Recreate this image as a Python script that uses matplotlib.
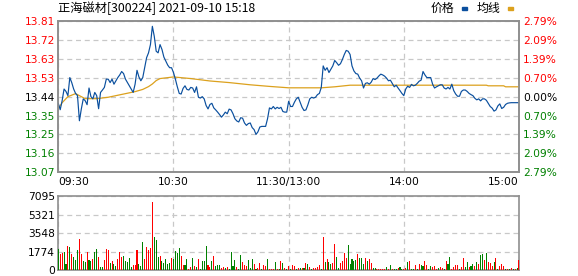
import numpy as np
import matplotlib
matplotlib.use("Agg")
import matplotlib.pyplot as plt
from matplotlib.patches import Rectangle

# stock info
title = "正海磁材[300224] 2021-09-10 15:18"
pre_close = 13.44

# price per minute, 09:30 .. 11:30 then 13:01 .. 15:00
price = [
    13.407, 13.375, 13.420, 13.478, 13.466, 13.445, 13.535, 13.510, 13.478, 13.456,
    13.445, 13.320, 13.379, 13.429, 13.420, 13.400, 13.483, 13.440, 13.429, 13.461,
    13.445, 13.380, 13.461, 13.473, 13.486, 13.527, 13.527, 13.510, 13.527, 13.502,
    13.519, 13.535, 13.548, 13.565, 13.555, 13.527, 13.510, 13.494, 13.478, 13.461,
    13.502, 13.571, 13.538, 13.519, 13.535, 13.584, 13.634, 13.658, 13.699, 13.790,
    13.740, 13.666, 13.658, 13.699, 13.675, 13.637, 13.617, 13.597, 13.584, 13.584,
    13.560,
    13.527, 13.489, 13.456, 13.453, 13.481, 13.494, 13.476, 13.473, 13.486, 13.483,
    13.461, 13.489, 13.437, 13.433, 13.440, 13.429, 13.396, 13.379, 13.401, 13.407,
    13.384, 13.374, 13.363, 13.351, 13.338, 13.349, 13.363, 13.355, 13.378, 13.374,
    13.355, 13.330, 13.319, 13.314, 13.335, 13.333, 13.309, 13.297, 13.306, 13.309,
    13.286, 13.276, 13.252, 13.265, 13.289, 13.292, 13.292, 13.292, 13.330, 13.384,
    13.379, 13.391, 13.379, 13.387, 13.381, 13.387, 13.366, 13.363, 13.363, 13.417,
    13.391, 13.391, 13.412, 13.429, 13.437, 13.412, 13.387, 13.371, 13.374, 13.399,
    13.429, 13.437, 13.433, 13.437, 13.450, 13.456, 13.486, 13.593, 13.571, 13.584,
    13.560, 13.576, 13.593, 13.620, 13.609, 13.596, 13.604, 13.625, 13.650, 13.670,
    13.666, 13.650, 13.593, 13.568, 13.555, 13.552, 13.532, 13.519, 13.483, 13.506,
    13.509, 13.502, 13.512, 13.530, 13.525, 13.532, 13.543, 13.552, 13.548, 13.542,
    13.532, 13.519, 13.522, 13.506, 13.489, 13.497, 13.483, 13.470, 13.456, 13.445,
    13.478, 13.492, 13.486, 13.501, 13.494, 13.497, 13.506, 13.517, 13.522, 13.565,
    13.548, 13.535, 13.535, 13.535, 13.502, 13.483, 13.489, 13.494, 13.499, 13.499,
    13.483, 13.478, 13.486, 13.478, 13.502, 13.470, 13.453, 13.442, 13.442, 13.466,
    13.473, 13.473, 13.466, 13.456, 13.450, 13.445, 13.432, 13.424, 13.429, 13.419,
    13.429, 13.429, 13.422, 13.407, 13.391, 13.383, 13.368, 13.374, 13.394, 13.404,
    13.381, 13.387, 13.401, 13.407, 13.409, 13.410, 13.410, 13.410, 13.410, 13.410,
]

# average price line, read at its turning points
avg_minutes = [0, 2, 5, 9, 12, 14, 20, 26, 30, 35, 40, 44, 47, 49, 51, 53, 60,
               69, 79, 89, 100, 110, 120, 137, 144, 149, 152, 223, 224, 232, 233, 240]
avg_price = [13.38, 13.41, 13.44, 13.455, 13.44, 13.43, 13.43, 13.437, 13.445, 13.455,
             13.465, 13.476, 13.49, 13.503, 13.52, 13.53, 13.538,
             13.53, 13.518, 13.51, 13.499, 13.491, 13.484, 13.484, 13.489, 13.494,
             13.497, 13.497, 13.494, 13.494, 13.489, 13.489]

# volume per minute (hands), R = up minute, G = down minute
volume = [
    2022, 1540, 1637, 1733, 578, 2311, 2215, 1540, 1252, 963,
    1926, 2985, 1540, 867, 770, 1733, 963, 867, 1059, 1733,
    2022, 1252, 289, 289, 963, 2022, 1926, 674, 867, 578,
    385, 1059, 1733, 1252, 1348, 867, 770, 1156, 289, 482,
    482, 1926, 578, 385, 2696, 1059, 2215, 1926, 2119, 6548,
    3178, 2889, 1252, 1348, 867, 674, 1059, 578, 674, 1156,
    1059,
    1830, 1637, 2119, 1348, 482, 482, 1059, 96, 289, 1156,
    385, 289, 1059, 96, 867, 867, 2311, 482, 289, 867,
    1348, 385, 482, 482, 193, 289, 193, 289, 96, 1733,
    385, 963, 289, 96, 1444, 770, 482, 385, 963, 193,
    1059, 578, 96, 193, 674, 96, 482, 385, 1059, 96,
    96, 96, 770, 96, 96, 867, 674, 193, 96,
    385, 96, 482, 385, 96, 193, 193, 193, 193, 674,
    578, 289, 96, 193, 193, 289, 482, 96, 3178, 770,
    1059, 770, 578, 674, 2504, 1252, 193, 674, 867, 1637,
    1156, 2408, 578, 1059, 867, 963, 1540, 1156, 1156, 578,
    1156, 867, 1059, 674, 193, 193, 96, 96, 96, 96,
    96, 289, 96, 482, 96, 96, 96, 193, 289, 96,
    96,
    193, 770, 867, 96, 96, 482, 96, 578, 482, 385,
    867, 482, 96, 385, 289, 385, 96, 193, 289, 193,
    96, 867, 578, 1252, 96, 289, 482, 482, 96, 289,
    1156, 289, 770, 289, 385, 578, 385, 770, 578, 1444,
    1540, 963, 1637, 770, 674, 385, 770, 1156, 96, 385,
    578, 385, 96, 96, 96, 193, 96, 96, 193, 963,
]
direction = (
    "GRRGGRGRGG" "GRRGGRGGRG" "GRGGRRRGRG" "GRRRGGGGGR" "RRGGGRRRRR" "GGGRGGGGGR" "G"
    "GGGRRGGRRG" "RGRGGGGRRG" "RGGGRRGRGG" "GGRGGRRRGG" "GRGRRGRRGR" "RRGRGRGRG"
    "RGRRGRGRGR" "GRGRRRRGRG" "RGGRRGGRRR" "RGGGGGRGGG" "RGRRGGRRRR" "RGRGRGGRGG" "R"
    "RGRGGRGRGG" "RRGGRRRGRR" "GRGGRRRRGR" "RGGRGGRGRG" "GRGRRRGRGR" "RRGRGRGRGR"
)

minute_ticks = [0, 60, 120, 180, 240]
time_labels = ["09:30", "10:30", "11:30/13:00", "14:00", "15:00"]
pct = [2.79, 2.09, 1.39, 0.70, 0.00, -0.70, -1.39, -2.09, -2.79]
price_labels = ["13.81", "13.72", "13.63", "13.53", "13.44", "13.35", "13.25", "13.16", "13.07"]
pct_labels = ["2.79%", "2.09%", "1.39%", "0.70%", "0.00%", "0.70%", "1.39%", "2.09%", "2.79%"]
vol_ticks = [0, 1774, 3548, 5321, 7095]

RED = "#ff0000"
GREEN = "#008000"
BLUE = "#0a4f9e"
ORANGE = "#dca11d"
SPINE = "#8f8f8f"
GRID = "#c8c8c8"

plt.rcParams['font.family'] = ['DejaVu Sans', 'Noto Sans CJK SC']
FS = 7.7

W, H = 578, 276
def box(l, t, r, b):
    return [l / W, 1 - b / H, (r - l) / W, (b - t) / H]

fig = plt.figure(figsize=(W / 100, H / 100), dpi=100)
ax = fig.add_axes(box(58.3, 21.3, 519, 172))
axv = fig.add_axes(box(58.3, 196.3, 519, 270.3))

minutes = np.arange(len(price))
lo = pre_close * (1 + pct[-1] / 100)
hi = pre_close * (1 + pct[0] / 100)
price_ticks = [pre_close * (1 + p / 100) for p in pct]

# price panel
ax.plot(avg_minutes, avg_price, color=ORANGE, lw=0.9, zorder=3)
ax.plot(minutes, price, color=BLUE, lw=0.85, zorder=4)
ax.set_xlim(0, 240)
ax.set_ylim(lo, hi)
ax.set_yticks(price_ticks, price_labels)
ax.set_xticks(minute_ticks, time_labels)
ax.tick_params(axis='y', length=0, pad=2.4, labelsize=FS)
ax.tick_params(axis='x', length=0, pad=3.5, labelsize=FS)
xl = ax.get_xticklabels()
xl[0].set_ha('left')
xl[-1].set_ha('right')
label_colors = [RED, RED, RED, RED, "black", GREEN, GREEN, GREEN, GREEN]
for lbl, c in zip(ax.get_yticklabels(), label_colors):
    lbl.set_color(c)

ax2 = ax.twinx()
ax2.set_ylim(lo, hi)
ax2.set_yticks(price_ticks, pct_labels)
ax2.tick_params(axis='y', length=0, pad=3, labelsize=FS)
for lbl, c in zip(ax2.get_yticklabels(), label_colors):
    lbl.set_color(c)

# volume panel
bar_colors = [RED if d == "R" else GREEN for d in direction]
axv.bar(np.arange(len(volume)), volume, width=0.55, color=bar_colors, zorder=3)
axv.set_xlim(0, 240)
axv.set_ylim(0, vol_ticks[-1])
axv.set_yticks(vol_ticks, [str(v) for v in vol_ticks])
axv.set_xticks(minute_ticks)
axv.tick_params(axis='y', length=0, pad=2.4, labelsize=FS)
axv.tick_params(axis='x', length=0, labelbottom=False)

for a in (ax, ax2, axv):
    for s in a.spines.values():
        s.set_color(SPINE)
        s.set_linewidth(1.2)
for a in (ax, axv):
    a.grid(True, color=GRID, linestyle=(0, (4, 3)), linewidth=0.9, zorder=1)
    a.set_axisbelow(True)

# title and legend
cjk = ['Noto Sans CJK SC', 'DejaVu Sans']
fig.text(58 / W, 1 - 8 / H, title, fontsize=8.8, family=cjk, va='center', ha='left')
fig.text(431 / W, 1 - 8 / H, "价格", fontsize=8.6, family=cjk, va='center', ha='left')
fig.add_artist(Rectangle((462 / W, 1 - 10 / H), 4.5 / W, 3 / H, color=BLUE, transform=fig.transFigure))
fig.text(477 / W, 1 - 8 / H, "均线", fontsize=8.6, family=cjk, va='center', ha='left')
fig.add_artist(Rectangle((508 / W, 1 - 10 / H), 5 / W, 3 / H, color=ORANGE, transform=fig.transFigure))

fig.savefig("out.png", dpi=100)
